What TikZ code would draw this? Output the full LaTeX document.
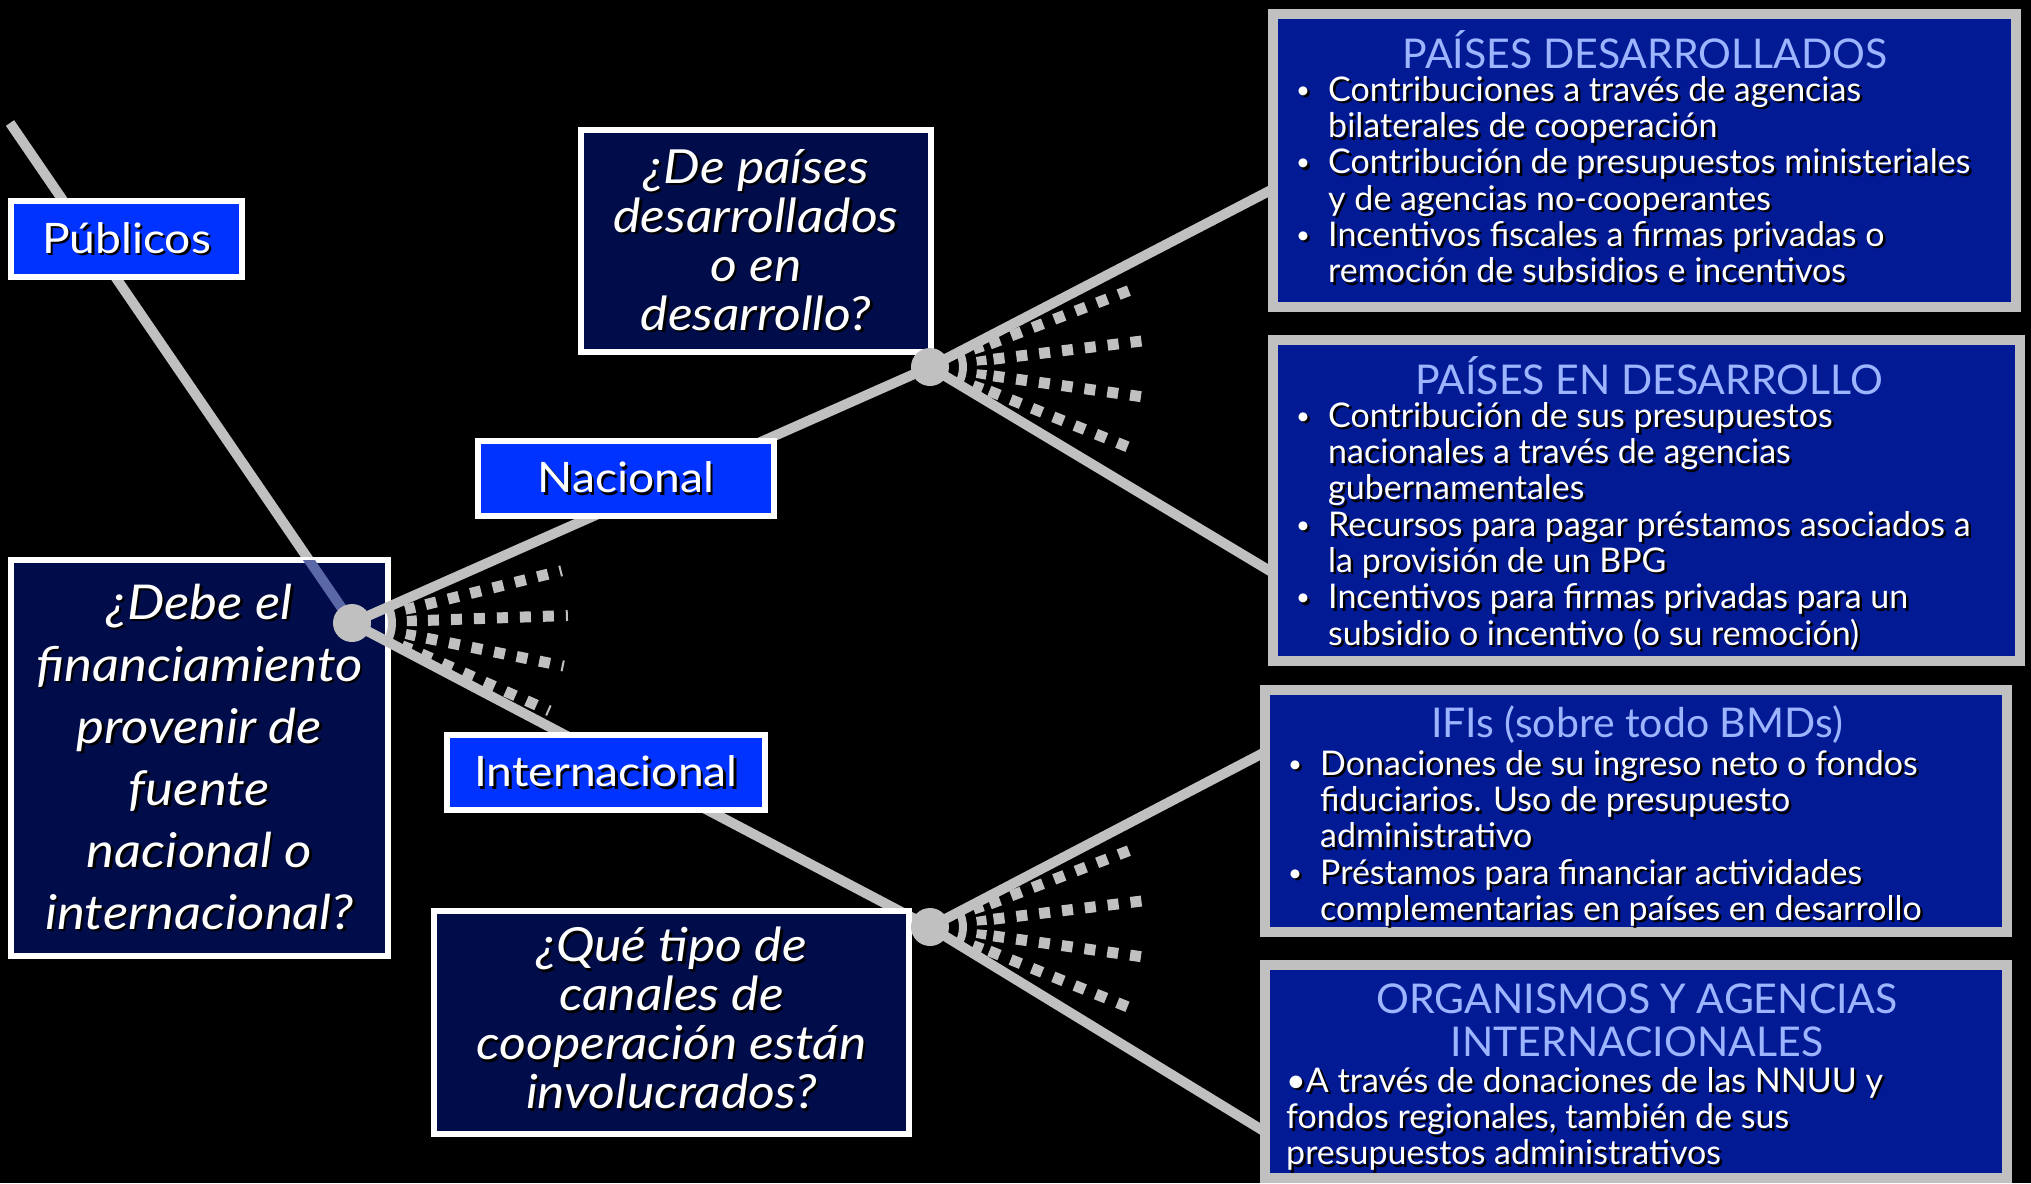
\documentclass[tikz,border=0pt]{standalone}
\usepackage{fontspec}
\setmainfont{Lato}
\newfontfamily\qfont[FakeStretch=1.1]{Lato}
\newfontfamily\bfont{Lato}
\definecolor{lgrey}{HTML}{C0C0C0}
\definecolor{lblue}{HTML}{0033FF}
\definecolor{qnavy}{HTML}{000D4A}
\definecolor{rblue}{HTML}{021A94}
\definecolor{ttblue}{HTML}{9DB5FF}
\definecolor{tint}{HTML}{5B68A8}
\definecolor{shadowc}{HTML}{000000}
\newcommand\sh[1]{\leavevmode\rlap{\hspace{2.5pt}\raisebox{-2.5pt}{\textcolor{shadowc}{#1}}}#1}
\newcommand\bul{\llap{\makebox[32pt][l]{\sh{\raisebox{3pt}{\fontsize{24}{24}\selectfont •}}}}}
\begin{document}
\begin{tikzpicture}[x=1pt,y=-1pt,
  conn/.style={draw=lgrey,line width=10pt},
  fandot/.style={draw=lgrey,line width=11pt,dash pattern=on 11pt off 12pt},
  fanarc/.style={draw=lgrey,line width=8pt},
  fanseg/.style={draw=lgrey,line width=10pt},
  qbox/.style={draw=white,line width=6pt,fill=qnavy,text=white,inner sep=0pt,align=center,font=\qfont\itshape\fontsize{47}{49}\selectfont},
  lbox/.style={draw=white,line width=6pt,fill=lblue,text=white,inner sep=0pt,font=\qfont\fontsize{42}{50}\selectfont},
  rbox/.style={draw=lgrey,line width=10pt,fill=rblue,inner sep=0pt},
  rtitle/.style={text=ttblue,inner sep=0pt,anchor=north,align=center,font=\bfont\fontsize{41}{43}\selectfont},
  rtext/.style={text=white,inner sep=0pt,anchor=north west,align=left,font=\bfont\fontsize{34}{36.3}\selectfont},
]
\useasboundingbox (0,0) rectangle (2031,1183);
\fill[black] (0,0) rectangle (2031,1183);

\coordinate (P0) at (10,123);
\coordinate (J1) at (352,623);
\coordinate (J2) at (930,367);
\coordinate (J3) at (930,927);
\coordinate (e1) at (1275,188);
\coordinate (e2) at (1275,574);
\coordinate (e3) at (1267,751);
\coordinate (e4) at (1267,1133);

\draw[conn] (P0) -- (J1);

\node[qbox,minimum width=377pt,minimum height=396pt,
  font=\qfont\itshape\fontsize{48}{62}\selectfont] (Q1) at (199.5,758)
  {\sh{¿Debe el}\\\sh{financiamiento}\\\sh{provenir de}\\\sh{fuente}\\\sh{nacional o}\\\sh{internacional?}};
\begin{scope}
  \clip ([xshift=3pt,yshift=-3pt]Q1.north west) rectangle ([xshift=-3pt,yshift=3pt]Q1.south east);
  \draw[conn,draw=tint] (P0) -- (J1);
\end{scope}

\node[lbox,minimum width=231pt,minimum height=76pt] (PU) at (126.5,239) {\sh{Públicos}};

\draw[conn] (J1) -- (J2);
\draw[conn] (J1) -- (J3);
\draw[conn] (J2) -- (e1);
\draw[conn] (J2) -- (e2);
\draw[conn] (J3) -- (e3);
\draw[conn] (J3) -- (e4);

% fan at J1
\draw[fanarc] (J1) ++(-23.5:40) arc[start angle=-23.5,end angle=27.8,radius=40];
\foreach \ang in {-14,-2,11.5,24} {
  \draw[fanseg] (J1) ++({\ang-5}:60) arc[start angle={\ang-5},end angle={\ang+5},radius=60];
  \draw[fandot] (J1) ++(\ang:76) -- ++(\ang:140);
}
% fan at J2
\draw[fanarc] (J2) ++(-27.7:33) arc[start angle=-27.7,end angle=31.3,radius=33];
\foreach \ang in {-21,-7,8,22} {
  \draw[fanseg] (J2) ++({\ang-5}:52) arc[start angle={\ang-5},end angle={\ang+5},radius=52];
  \draw[fandot] (J2) ++(\ang:64) -- ++(\ang:150);
}
% fan at J3
\draw[fanarc] (J3) ++(-27.9:33) arc[start angle=-27.9,end angle=31.7,radius=33];
\foreach \ang in {-21,-7,8,22} {
  \draw[fanseg] (J3) ++({\ang-5}:52) arc[start angle={\ang-5},end angle={\ang+5},radius=52];
  \draw[fandot] (J3) ++(\ang:64) -- ++(\ang:150);
}

\node[lbox,minimum width=296pt,minimum height=75pt] (NA) at (626,478.5) {\sh{Nacional}};
\node[lbox,minimum width=318pt,minimum height=75pt] (IN) at (606,772.5) {\sh{Internacional}};

\node[qbox,minimum width=350pt,minimum height=222pt] (Q2) at (756,241)
  {\sh{¿De países}\\\sh{desarrollados}\\\sh{o en}\\\sh{desarrollo?}};
\node[qbox,minimum width=475pt,minimum height=223pt,text height=0pt] (Q3) at (671.5,1022.5)
  {};
\node[text=white,inner sep=0pt,align=center,font=\qfont\itshape\fontsize{47}{49}\selectfont] (Q3t) at (671.5,1019.5)
  {\sh{¿Qué tipo de}\\\sh{canales de}\\\sh{cooperación están}\\\sh{involucrados?}};

\fill[lgrey] (J1) circle[radius=19];
\fill[lgrey] (J2) circle[radius=19];
\fill[lgrey] (J3) circle[radius=19];

\node[rbox,minimum width=743pt,minimum height=293pt] (R1) at (1644.5,160.5) {};
\node[rbox,minimum width=747pt,minimum height=321pt] (R2) at (1646.5,500.5) {};
\node[rbox,minimum width=742pt,minimum height=242pt] (R3) at (1636,811) {};
\node[rbox,minimum width=742pt,minimum height=213pt] (R4) at (1636,1071.5) {};

\node[rtitle] (T1) at (1645,30) {\rule{0pt}{33pt}PAÍSES DESARROLLADOS};
\node[rtext] (B1) at (1328,71) {\rule{0pt}{30pt}\bul\sh{Contribuciones a través de agencias}\\\sh{bilaterales de cooperación}\\\bul\sh{Contribución de presupuestos ministeriales}\\\sh{y de agencias no-cooperantes}\\\bul\sh{Incentivos fiscales a firmas privadas o}\\\sh{remoción de subsidios e incentivos}};

\node[rtitle] (T2) at (1649,356) {\rule{0pt}{33pt}PAÍSES EN DESARROLLO};
\node[rtext] (B2) at (1328,397) {\rule{0pt}{30pt}\bul\sh{Contribución de sus presupuestos}\\\sh{nacionales a través de agencias}\\\sh{gubernamentales}\\\bul\sh{Recursos para pagar préstamos asociados a}\\\sh{la provisión de un BPG}\\\bul\sh{Incentivos para firmas privadas para un}\\\sh{subsidio o incentivo (o su remoción)}};

\node[rtitle] (T3) at (1637,704) {\rule{0pt}{33pt}IFIs (sobre todo BMDs)};
\node[rtext] (B3) at (1320,745) {\rule{0pt}{30pt}\bul\sh{Donaciones de su ingreso neto o fondos}\\\sh{fiduciarios. Uso de presupuesto}\\\sh{administrativo}\\\bul\sh{Préstamos para financiar actividades}\\\sh{complementarias en países en desarrollo}};

\node[rtitle] (T4) at (1637,980) {\rule{0pt}{33pt}ORGANISMOS Y AGENCIAS\\INTERNACIONALES};
\node[rtext] (B4) at (1286,1062) {\rule{0pt}{30pt}\sh{•A través de donaciones de las NNUU y}\\\sh{fondos regionales, también de sus}\\\sh{presupuestos administrativos}};
\end{tikzpicture}
\end{document}
